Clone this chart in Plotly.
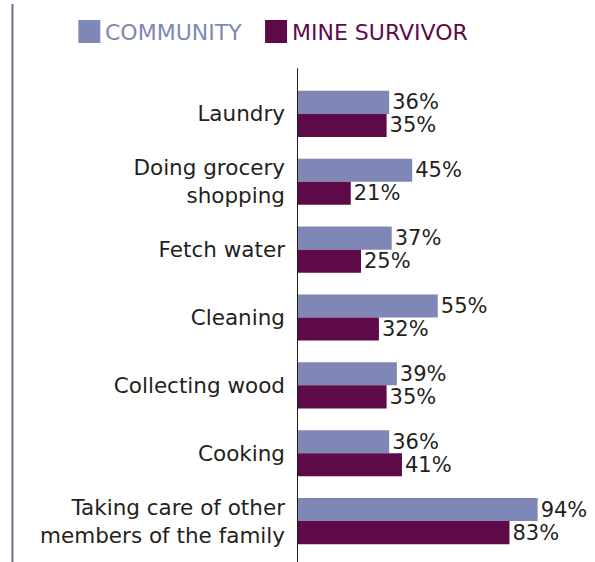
import plotly.graph_objects as go

# Household tasks, listed top to bottom
categories = [
    "Laundry",
    "Doing grocery<br>shopping",
    "Fetch water",
    "Cleaning",
    "Collecting wood",
    "Cooking",
    "Taking care of other<br>members of the family",
]
community = [36, 45, 37, 55, 39, 36, 94]
mine_survivor = [35, 21, 25, 32, 35, 41, 83]
series_names = ["COMMUNITY", "MINE SURVIVOR"]

COL_COMMUNITY = "#7f87b6"
COL_SURVIVOR = "#5e0a48"
TEXT = "#231f20"
FONT = "DejaVu Sans"

fig = go.Figure()
for name, vals, col in [
    (series_names[0], community, COL_COMMUNITY),
    (series_names[1], mine_survivor, COL_SURVIVOR),
]:
    fig.add_trace(go.Bar(
        y=categories, x=vals, name=name, orientation="h",
        marker=dict(color=col, line=dict(width=0)),
        text=[f"{v}%" for v in vals], textposition="outside",
        constraintext="none",
        textfont=dict(family=FONT, size=21, color=TEXT),
        cliponaxis=False, showlegend=False,
    ))

fig.update_layout(
    width=595, height=562,
    margin=dict(l=297, r=42, t=80, b=7),
    paper_bgcolor="white", plot_bgcolor="white",
    barmode="group", bargap=0.32, bargroupgap=0,
    xaxis=dict(range=[0, 100], visible=False),
    yaxis=dict(
        autorange="reversed", showgrid=False, zeroline=False, showline=False,
        ticks="", ticklabelstandoff=11,
        tickfont=dict(family=FONT, size=21.5, color=TEXT),
    ),
)

# Vertical axis line at zero, extending a little above the bars
fig.add_shape(type="line", xref="x", yref="paper", x0=0, x1=0, y0=-0.02, y1=1.025,
              line=dict(color="#1a1a1a", width=2))
# Thin framing rule down the left edge
fig.add_shape(type="line", xref="paper", yref="paper", x0=-1.1115, x1=-1.1115,
              y0=-0.02, y1=1.16, line=dict(color="#6b6f98", width=2))

# Legend built from swatches and coloured labels
legend_items = [
    (series_names[0], COL_COMMUNITY, 78),
    (series_names[1], COL_SURVIVOR, 265),
]
for label, col, px in legend_items:
    xp = (px - 297) / 256.4
    fig.add_shape(type="rect", xref="paper", yref="paper",
                  x0=xp, x1=xp + 22 / 256.4, y0=1 + (80 - 43) / 475, y1=1 + (80 - 20) / 475,
                  fillcolor=col, line=dict(width=0))
    fig.add_annotation(text=label, xref="paper", yref="paper",
                       x=xp + 25 / 256.4, y=1 + (80 - 32) / 475,
                       xanchor="left", yanchor="middle", showarrow=False,
                       font=dict(family=FONT, size=22, color=col))

fig.write_html("out.html")
